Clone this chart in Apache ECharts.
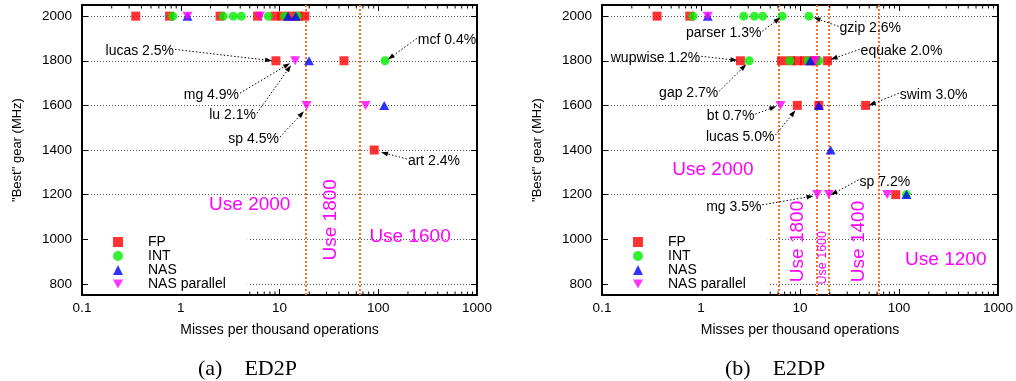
<!DOCTYPE html>
<html>
<head>
<meta charset="utf-8">
<script src="https://cdn.jsdelivr.net/npm/echarts@6/dist/echarts.min.js"></script>
<style>
  html, body { margin: 0; padding: 0; background: #fff; }
  #chart { width: 1016px; height: 381px; }
</style>
</head>
<body>
<div id="chart"></div>
<script>
// ---- (a) ED2P: [misses per 1000 ops, best gear MHz] ----
const fpA     = [[0.35,2000],[0.77,2000],[2.5,2000],[6.0,2000],[9.0,2000],[10.6,2000],[12.8,2000],[15.4,2000],[18.1,2000],[9.2,1800],[45,1800],[91,1400]];
const intA    = [[0.83,2000],[2.7,2000],[3.4,2000],[4.1,2000],[7.7,2000],[11.3,2000],[15.2,2000],[117,1800]];
const nasA    = [[1.17,2000],[12.2,2000],[14.6,2000],[19.9,1800],[115,1600]];
const nasParA = [[1.17,2000],[6.35,2000],[14.4,1800],[18.8,1600],[74.6,1600]];
const cutA    = [18.4, 65.3];

// ---- (b) E2DP ----
const fpB     = [[0.36,2000],[0.77,2000],[2.5,1800],[6.5,1800],[8.0,1800],[9.4,1800],[11.1,1800],[13.1,1800],[14.4,1800],[19.0,1800],[9.4,1600],[15.5,1600],[46,1600],[92.7,1200]];
const intB    = [[0.83,2000],[2.7,2000],[3.46,2000],[4.2,2000],[6.6,2000],[12.3,2000],[3.06,1800],[7.9,1800],[12.1,1800],[15.5,1800],[119,1200]];
const nasB    = [[1.17,2000],[12.7,1800],[15.5,1600],[20.4,1400],[119,1200]];
const nasParB = [[1.17,2000],[14.3,1800],[6.35,1600],[14.9,1200],[19.6,1200],[76,1200]];
const cutB    = [6.1, 14.9, 19.3, 62];

// Benchmark call-outs: label anchor -> arrow tip (data units)
const notesA = [
  { text: 'lucas 2.5%', from: [0.875, 1851], to: [8.4, 1800], side: 'left' },
  { text: 'mcf 0.4%',   from: [246, 1900],   to: [125, 1806], side: 'right' },
  { text: 'mg 4.9%',    from: [3.98, 1655],  to: [12.8, 1789], side: 'left' },
  { text: 'lu 2.1%',    from: [5.9, 1565],   to: [13.1, 1780], side: 'left' },
  { text: 'sp 4.5%',    from: [10.1, 1458],  to: [17.7, 1574], side: 'left' },
  { text: 'art 2.4%',   from: [195, 1360],   to: [106.6, 1390], side: 'right' }
];
const notesB = [
  { text: 'parser 1.3%',  from: [4.17, 1932], to: [6.35, 1994], side: 'left' },
  { text: 'gzip 2.6%',    from: [24.5, 1954], to: [13.7, 1994], side: 'right' },
  { text: 'wupwise 1.2%', from: [1.006, 1820], to: [2.33, 1802], side: 'left' },
  { text: 'equake 2.0%',  from: [40, 1851],   to: [20.4, 1806], side: 'right' },
  { text: 'gap 2.7%',     from: [1.53, 1664], to: [2.87, 1784], side: 'left' },
  { text: 'bt 0.7%',      from: [3.54, 1561], to: [5.78, 1596], side: 'left' },
  { text: 'lucas 5.0%',   from: [5.65, 1467], to: [9.0, 1578],  side: 'left' },
  { text: 'swim 3.0%',    from: [99.4, 1654], to: [49.4, 1600], side: 'right' },
  { text: 'sp 7.2%',      from: [39.1, 1266], to: [20.4, 1198], side: 'right' },
  { text: 'mg 3.5%',      from: [4.17, 1154], to: [13.7, 1194], side: 'left' }
];

// Region captions between the threshold lines
const regionsA = [['Use 2000', 5.0, 1154], ['Use 1800', 33.2, 1087], ['Use 1600', 210, 1009]];
const regionsB = [['Use 2000', 1.32, 1310], ['Use 1800', 9.4, 990], ['Use 1600', 17.0, 917], ['Use 1400', 39.1, 990], ['Use 1200', 297, 908]];
const verticalRegions = { 'Use 1800': 19, 'Use 1400': 19 };
const smallRegions = { B2: 12.5 };

// Axis ticks
const xTicks = [0.1, 1, 10, 100, 1000];
const xTickText = ['0.1', '1', '10', '100', '1000'];
const xMinorTicks = [0.2,0.3,0.4,0.5,0.6,0.7,0.8,0.9, 2,3,4,5,6,7,8,9, 20,30,40,50,60,70,80,90, 200,300,400,500,600,700,800,900];
const yTicks = [800, 1000, 1200, 1400, 1600, 1800, 2000];
const seriesNames = ['FP', 'INT', 'NAS', 'NAS parallel'];

const FONT = '"Liberation Sans", Arial, sans-serif';
const Y_MIN = 750, Y_MAX = 2050;

function xLabel(v) {
  const i = xTicks.findIndex(t => Math.abs(Math.log10(t) - Math.log10(v)) < 1e-6);
  return i >= 0 ? xTickText[i] : '';
}
function yLabel(v) {
  return yTicks.indexOf(v) >= 0 ? String(v) : '';
}

function makeX(gridIndex, pos) {
  return {
    type: 'log', logBase: 10, min: 0.1, max: 1000, gridIndex, position: pos,
    axisLine: { show: true, onZero: false, lineStyle: { color: '#000', width: 2 } },
    axisTick: { show: true, inside: true, length: 6, lineStyle: { color: '#000', width: 1 } },
    axisLabel: { show: pos === 'bottom', formatter: xLabel, fontFamily: FONT, fontSize: 13.5, color: '#000', margin: 6 },
    splitLine: { show: false },
    minorTick: { show: false },
    name: pos === 'bottom' ? 'Misses per thousand operations' : '',
    nameLocation: 'middle', nameGap: 28,
    nameTextStyle: { fontFamily: FONT, fontSize: 14, color: '#000' }
  };
}
function makeY(gridIndex, pos) {
  return {
    type: 'value', min: Y_MIN, max: Y_MAX, minInterval: 200, maxInterval: 200, gridIndex, position: pos,
    axisLine: { show: true, onZero: false, lineStyle: { color: '#000', width: 2 } },
    axisTick: { show: true, inside: true, length: 6, lineStyle: { color: '#000', width: 1 } },
    axisLabel: { show: pos === 'left', formatter: yLabel, fontFamily: FONT, fontSize: 13.5, color: '#000', margin: 10, showMinLabel: false, showMaxLabel: false },
    splitLine: { show: pos === 'left', lineStyle: { color: '#555', width: 1, type: [1, 2] } },
    name: pos === 'left' ? '"Best" gear (MHz)' : '',
    nameLocation: 'middle', nameGap: 58,
    nameTextStyle: { fontFamily: FONT, fontSize: 13, color: '#000' }
  };
}

function renderNotes(list) {
  return function (params, api) {
    const a = list[params.dataIndex];
    const s = api.coord(a.from);
    const t = api.coord(a.to);
    const dx = t[0] - s[0], dy = t[1] - s[1];
    const len = Math.sqrt(dx * dx + dy * dy) || 1;
    const ux = dx / len, uy = dy / len;
    const L = 7, W = 2.4;
    const b = [t[0] - ux * L, t[1] - uy * L];
    const left = a.side === 'left';
    return {
      type: 'group',
      children: [
        { type: 'line', shape: { x1: s[0], y1: s[1], x2: b[0], y2: b[1] },
          style: { stroke: '#000', lineWidth: 1, lineDash: [1.5, 2] } },
        { type: 'polygon', shape: { points: [t, [b[0] - uy * W, b[1] + ux * W], [b[0] + uy * W, b[1] - ux * W]] },
          style: { fill: '#000' } },
        { type: 'text', x: s[0] + (left ? -1 : 1), y: s[1] + 2,
          style: { text: a.text, align: left ? 'right' : 'left', verticalAlign: 'middle',
                   font: '14px ' + FONT, fill: '#000' } }
      ]
    };
  };
}

function renderRegions(list, tag) {
  return function (params, api) {
    const r = list[params.dataIndex];
    const p = api.coord([r[1], r[2]]);
    const key = tag + params.dataIndex;
    const vertical = r[0] in verticalRegions || smallRegions[key];
    const size = smallRegions[key] || 19;
    return {
      type: 'text', x: p[0], y: p[1], rotation: vertical ? Math.PI / 2 : 0,
      style: { text: r[0], align: 'center', verticalAlign: 'middle', font: size + 'px ' + FONT, fill: '#ff00ff' }
    };
  };
}

function renderMinor(params, api) {
  const x = api.coord([api.value(0), Y_MIN])[0];
  const cs = params.coordSys;
  const yb = cs.y + cs.height, yt = cs.y;
  const st = { stroke: '#000', lineWidth: 1 };
  return {
    type: 'group',
    children: [
      { type: 'line', shape: { x1: x, y1: yb, x2: x, y2: yb - 3.5 }, style: st },
      { type: 'line', shape: { x1: x, y1: yt, x2: x, y2: yt + 3.5 }, style: st }
    ]
  };
}

function panel(idx, fp, int, nas, nasPar, cuts, notes, regions, tag) {
  const ax = { xAxisIndex: idx * 2, yAxisIndex: idx * 2 };
  return [
    Object.assign({ name: 'FP', type: 'scatter', symbol: 'rect', symbolSize: 9, z: 2,
      itemStyle: { color: '#ff0000' }, data: fp,
      markLine: { silent: true, symbol: 'none', z: 1, animation: false, label: { show: false },
        lineStyle: { color: '#f4702a', width: 2, type: [2, 2] },
        data: cuts.map(v => ({ xAxis: v })) } }, ax),
    Object.assign({ name: 'INT', type: 'scatter', symbol: 'circle', symbolSize: 9, z: 2,
      itemStyle: { color: '#00f000' }, data: int }, ax),
    Object.assign({ name: 'NAS', type: 'scatter', symbol: 'triangle', symbolSize: [10, 9], z: 2,
      itemStyle: { color: '#0000ff' }, data: nas }, ax),
    Object.assign({ name: 'NAS parallel', type: 'scatter', symbol: 'path://M0,0L2,0L1,1.8Z', symbolSize: [10, 9], z: 2,
      itemStyle: { color: '#ff00ff' }, data: nasPar }, ax),
    Object.assign({ type: 'custom', silent: true, z: 3, renderItem: renderMinor,
      data: xMinorTicks.map(v => [v, 1400]) }, ax),
    Object.assign({ type: 'custom', silent: true, z: 4, renderItem: renderNotes(notes),
      data: notes.map(n => n.from) }, ax),
    Object.assign({ type: 'custom', silent: true, z: 4, renderItem: renderRegions(regions, tag),
      data: regions.map(r => [r[1], r[2]]) }, ax)
  ];
}

function legendAt(left) {
  return {
    orient: 'vertical', left: left, top: 229, padding: [6, 22, 3, 25],
    itemWidth: 10, itemHeight: 10, itemGap: 0,
    backgroundColor: '#fff', selectedMode: false,
    data: seriesNames,
    textStyle: { fontFamily: FONT, fontSize: 14, color: '#000', lineHeight: 14, padding: [0, 0, 0, 20] }
  };
}

const chart = echarts.init(document.getElementById('chart'), null, { renderer: 'canvas' });
chart.setOption({
  animation: false,
  backgroundColor: '#fff',
  grid: [
    { left: 82, top: 5, width: 395, height: 290 },
    { left: 602, top: 5, width: 396, height: 290 }
  ],
  xAxis: [makeX(0, 'bottom'), makeX(0, 'top'), makeX(1, 'bottom'), makeX(1, 'top')],
  yAxis: [makeY(0, 'left'), makeY(0, 'right'), makeY(1, 'left'), makeY(1, 'right')],
  legend: [legendAt(88), legendAt(608)],
  series: [].concat(
    panel(0, fpA, intA, nasA, nasParA, cutA, notesA, regionsA, 'A'),
    panel(1, fpB, intB, nasB, nasParB, cutB, notesB, regionsB, 'B')
  ),
  graphic: [
    { type: 'text', x: 198, y: 369, style: { text: '(a)\u2003ED2P', align: 'left', verticalAlign: 'middle', font: '22px "Liberation Serif", "Times New Roman", serif', fill: '#000' } },
    { type: 'text', x: 725, y: 369, style: { text: '(b)\u2003E2DP', align: 'left', verticalAlign: 'middle', font: '22px "Liberation Serif", "Times New Roman", serif', fill: '#000' } }
  ]
});
</script>
</body>
</html>
